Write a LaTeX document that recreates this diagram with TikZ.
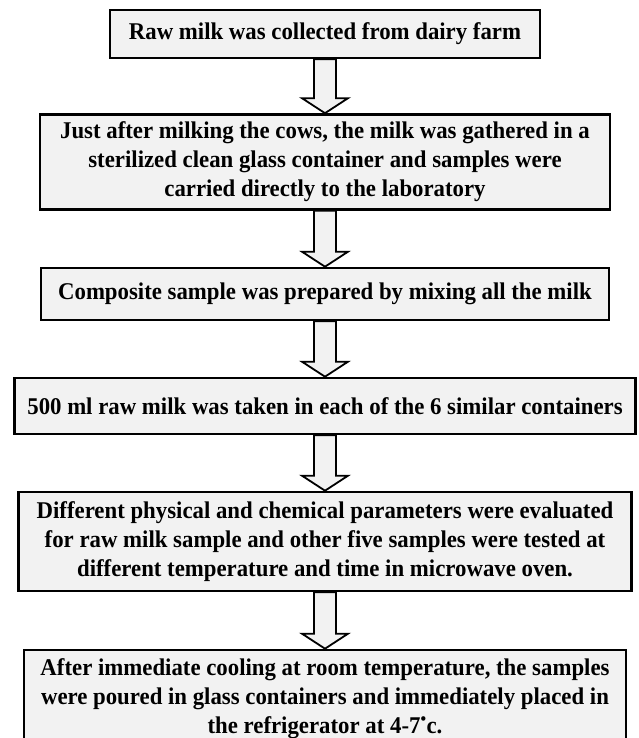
\documentclass[tikz,border=0pt]{standalone}
\usepackage{fontspec}
\setmainfont{Liberation Serif}[FakeStretch=0.95]
\usepackage{xcolor}
\usepackage{tikz}
\usetikzlibrary{positioning}
\usetikzlibrary{calc}

\definecolor{boxgray}{HTML}{F2F2F2}

\tikzset{
  stepbox/.style={draw=black, line width=2.6pt, fill=boxgray, align=center,
    inner sep=0pt, font=\bfseries\fontsize{24}{29}\selectfont},
  fatarrow/.style={draw=black, line width=1.8pt, fill=boxgray, line join=miter,
    to path={($(\tikztostart)+(-11pt,0)$)
      -- ($(\tikztostart|-\tikztotarget)+(-11pt,15pt)$)
      -- ($(\tikztostart|-\tikztotarget)+(-23pt,15pt)$)
      -- (\tikztostart|-\tikztotarget)
      -- ($(\tikztostart|-\tikztotarget)+(23pt,15pt)$)
      -- ($(\tikztostart|-\tikztotarget)+(11pt,15pt)$)
      -- ($(\tikztostart)+(11pt,0)$) -- cycle}}
}

\begin{document}
\begin{tikzpicture}[x=1pt, y=-1pt, line cap=round]
            % page frame
            \clip (0,0) rectangle (639,738);

            % steps of the procedure
            \node[stepbox, minimum width=430pt, minimum height=48pt] (collect) at (325,34)
                {Raw milk was collected from dairy farm};
            \node[stepbox, minimum width=570pt, minimum height=95pt] (gather) at (325,162)
                {Just after milking the cows, the milk was gathered in a\\
                 sterilized clean glass container and samples were\\
                 carried directly to the laboratory};
            \node[stepbox, minimum width=568pt, minimum height=52pt] (mix) at (325,294)
                {Composite sample was prepared by mixing all the milk};
            \node[stepbox, minimum width=621pt, minimum height=56pt] (split) at (325,406)
                {500 ml raw milk was taken in each of the 6 similar containers};
            \node[stepbox, minimum width=613pt, minimum height=99pt] (heat) at (325,541.5)
                {Different physical and chemical parameters were evaluated\\
                 for raw milk sample and other five samples were tested at\\
                 different temperature and time in microwave oven.};
            \node[stepbox, minimum width=602pt, minimum height=98pt] (store) at (325,699)
                {After immediate cooling at room temperature, the samples\\
                 were poured in glass containers and immediately placed in\\
                 the refrigerator at 4-7\textsuperscript{\textbullet}c.};

            % block arrows between the steps
            \draw[fatarrow] (collect.south) to (gather.north);
            \draw[fatarrow] (gather.south) to (mix.north);
            \draw[fatarrow] (mix.south) to (split.north);
            \draw[fatarrow] (split.south) to (heat.north);
            \draw[fatarrow] (heat.south) to (store.north);
\end{tikzpicture}
\end{document}
